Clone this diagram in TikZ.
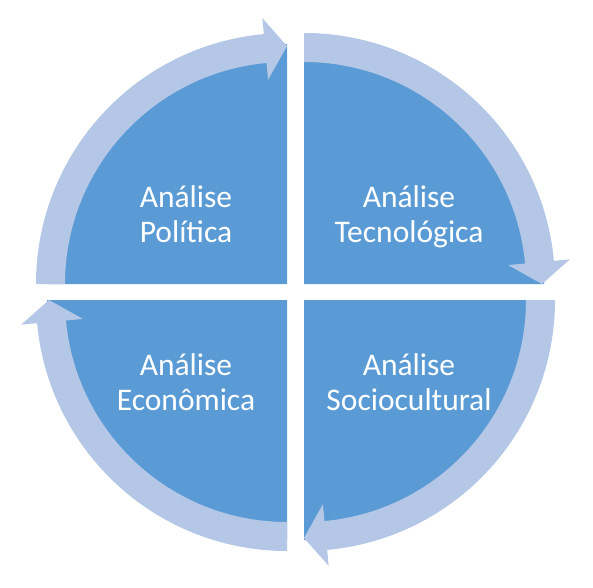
\documentclass[tikz,border=0pt]{standalone}
\usepackage{fontspec}
\setmainfont{Carlito}
\usetikzlibrary{positioning}
\definecolor{pieblue}{HTML}{5B9BD5}
\definecolor{ringblue}{HTML}{B4C7E7}

\begin{document}
\begin{tikzpicture}[x=1pt, y=1pt,
  sector/.style={fill=pieblue},
  cyclearrow/.style={fill=ringblue},
  quadtext/.style={text=white, font=\fontsize{31.5}{35}\selectfont, align=center,
    inner sep=0pt, text depth=0pt, anchor=south}]

\useasboundingbox (0,0) rectangle (593,587);

%% Pie quarters (corner x / corner y / start angle)
\foreach \cx/\cy/\a in {287/303/90, 304/303/0, 304/287/-90, 287/287/180} {
  \begin{scope}[shift={(\cx,\cy)}]
    \fill[sector] (0,0) -- ({\a}:240) arc[start angle=\a, end angle=\a+90, radius=240] -- cycle;
  \end{scope}
}

%% Circular arrows, clockwise
\foreach \cx/\cy/\a in {287/303/90, 304/303/0, 304/287/-90, 287/287/180} {
  \begin{scope}[shift={(\cx,\cy)}]
    \fill[cyclearrow] ({\a+90}:251) arc[start angle=\a+90, end angle=\a+5.3, radius=251]
      -- ({\a+5.3}:267) -- ({\a}:238) -- ({\a+5.3}:205) -- ({\a+5.3}:222)
      arc[start angle=\a+5.3, end angle=\a+90, radius=222] -- cycle;
  \end{scope}
}

% Labels
\node[quadtext] (polit) at (186,344) {Análise\\Política};
\node[quadtext] (tecno) at (409,344) {Análise\\Tecnológica};
\node[quadtext] (econ) at (186,176) {Análise\\Econômica};
\node[quadtext] (socio) at (409,176) {Análise\\Sociocultural};

\end{tikzpicture}
\end{document}
